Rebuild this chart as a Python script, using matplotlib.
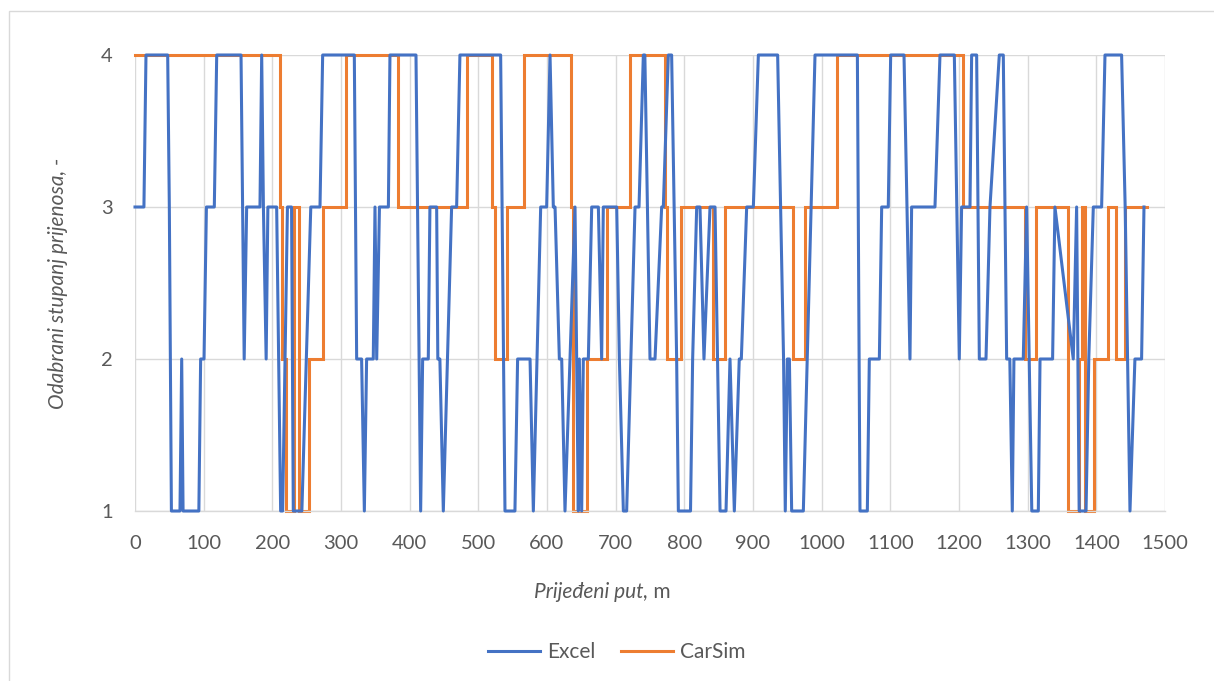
import matplotlib.pyplot as plt
from matplotlib.patches import Rectangle

plt.rcParams['font.family'] = ['Lato', 'DejaVu Sans']

# Excel: prijeđeni put (m) i odabrani stupanj (točke spojene linijom)
excel_x = [0, 13, 16, 47.6, 50, 53, 65.5, 68, 70, 93, 95.6, 100.5, 104, 115.5, 119,
           154.4, 159, 162.6, 182, 184.5, 187, 191, 193.5, 206.3, 212.1, 215, 222,
           228, 230.5, 243, 256, 269.4, 273.3, 319.4, 322.8, 330, 334, 337.3, 347,
           349.5, 352, 356, 369, 371.3, 409.2, 416, 418.9, 427.1, 429.5, 439.3, 441,
           444, 449, 461.1, 468.4, 473.2, 532.5, 538.8, 553.3, 557.2, 575.3, 580.1,
           590.8, 599.5, 604.4, 609.2, 611.7, 618, 621.4, 626.2, 640.8, 645.6, 647.1,
           650.5, 652.9, 660.2, 665.1, 674.8, 679.6, 682, 701.5, 705.4, 711.2, 716,
           728.2, 734, 740.3, 742.5, 750, 757.3, 767, 769.4, 776.7, 781.5, 788.8,
           791.3, 809, 812.1, 818, 822.8, 828.6, 837.4, 844.7, 852, 860.7, 866.5,
           872.8, 880, 883, 890.8, 900.5, 907.8, 935.9, 944.5, 947, 950, 953, 956.3,
           973.3, 990.3, 1052, 1055.8, 1066.5, 1069.4, 1084, 1087.4, 1097, 1100.5,
           1119.9, 1128.6, 1131, 1165, 1172.3, 1193.2, 1200.4, 1203.8, 1216, 1218.4,
           1225.7, 1229.6, 1239.3, 1245.1, 1258.7, 1264.5, 1269.4, 1274, 1277.6, 1280,
           1293.6, 1298.5, 1306, 1315.5, 1318, 1336.3, 1339.7, 1366.4, 1371.3, 1375,
           1385, 1389, 1395.6, 1407.7, 1412.6, 1436.8, 1442, 1449, 1456.2, 1465.9,
           1469.4]
excel_y = [3, 3, 4, 4, 3, 1, 1, 2, 1, 1, 2, 2, 3, 3, 4,
           4, 2, 3, 3, 4, 3, 2, 3, 3, 1, 1, 3,
           3, 1, 1, 3, 3, 4, 4, 2, 2, 1, 2, 2,
           3, 2, 3, 3, 4, 4, 1, 2, 2, 3, 3, 2,
           2, 1, 3, 3, 4, 4, 1, 1, 2, 2, 1,
           3, 3, 4, 3, 3, 2, 2, 1, 3, 1, 2,
           1, 2, 2, 3, 3, 2, 3, 3, 2, 1, 1,
           3, 3, 4, 4, 2, 2, 3, 3, 4, 4, 2,
           1, 1, 2, 3, 3, 2, 3, 3, 1, 1, 2,
           1, 2, 2, 3, 3, 4, 4, 2, 1, 2, 2, 1,
           1, 4, 4, 1, 1, 2, 2, 3, 3, 4,
           4, 2, 3, 3, 4, 4, 2, 3, 3, 4,
           4, 2, 2, 3, 4, 4, 2, 2, 1, 2,
           2, 3, 1, 1, 2, 2, 3, 2, 3, 1,
           1, 2, 3, 3, 4, 4, 3, 1, 2, 2,
           3]

# CarSim: točke promjene stupnja (stepenasto)
carsim_x = [0, 211.1, 213.6, 219.4, 232, 238.3, 253.8, 274.2, 307.2, 383.4, 484,
            519.4, 524.2, 541.2, 567, 634.5, 638, 657.8, 687.9, 720.9, 771.8, 775.2,
            794.7, 842.2, 859.2, 957.7, 975.7, 1021.8, 1205.3, 1296, 1312, 1359.2,
            1375.2, 1379, 1383, 1396.5, 1417.4, 1428.6, 1441.7, 1473.2]
carsim_y = [4, 3, 2, 1, 3, 1, 2, 3, 4, 3, 4,
            3, 2, 3, 4, 3, 1, 2, 3, 4, 3, 2,
            3, 2, 3, 2, 3, 4, 3, 2, 3, 1,
            2, 3, 1, 2, 3, 2, 3, 3]

x_ticks = [0, 100, 200, 300, 400, 500, 600, 700, 800, 900, 1000, 1100, 1200, 1300, 1400, 1500]
y_ticks = [1, 2, 3, 4]

fig = plt.figure(figsize=(12.14, 6.81), dpi=100)
fig.patches.append(Rectangle((9 / 1214, -0.1), 1.2, 1 - 11 / 681 + 0.1,
                             transform=fig.transFigure, fill=False,
                             edgecolor='#D9D9D9', linewidth=1.0))
ax = fig.add_axes([135 / 1214, 1 - 511 / 681, 1030 / 1214, 456 / 681])

ax.plot(excel_x, excel_y, color='#4472C4', linewidth=2.2, label='Excel',
        clip_on=False, solid_joinstyle='round', zorder=3)
ax.plot(carsim_x, carsim_y, color='#ED7D31', linewidth=2.2, label='CarSim',
        drawstyle='steps-post', clip_on=False, solid_joinstyle='miter', zorder=2)

ax.set_xlim(0, 1500)
ax.set_ylim(1, 4)
ax.set_xticks(x_ticks)
ax.set_yticks(y_ticks)
ax.grid(True, color='#D9D9D9', linewidth=1.0)
ax.set_axisbelow(True)
for s in ['top', 'right', 'left']:
    ax.spines[s].set_visible(False)
ax.spines['bottom'].set_color('#D9D9D9')
ax.spines['bottom'].set_linewidth(1.0)
ax.tick_params(axis='both', length=0, labelsize=14.5, labelcolor='#595959')
ax.tick_params(axis='x', pad=17)
ax.tick_params(axis='y', pad=16)

ax.set_ylabel('Odabrani stupanj prijenosa, -', fontsize=15, color='#595959',
              style='italic', labelpad=24)

fig.text(648 / 1214, 1 - 592 / 681, 'Prijeđeni put,', fontsize=15, color='#595959',
         style='italic', ha='right', va='center')
fig.text(648 / 1214, 1 - 592 / 681, ' m', fontsize=15, color='#595959',
         ha='left', va='center')

fig.legend(loc='center', bbox_to_anchor=(617 / 1214, 1 - 652 / 681), ncol=2,
           frameon=False, fontsize=15, labelcolor='#595959', handlelength=2.5,
           columnspacing=1.2, handletextpad=0.35)

plt.savefig('out.png', dpi=100)
